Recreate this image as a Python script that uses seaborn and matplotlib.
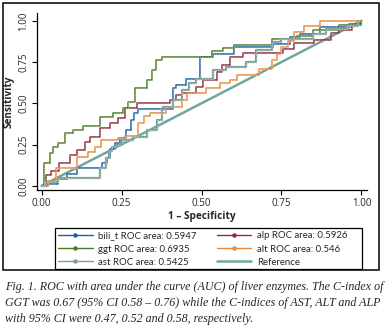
import numpy as np
import pandas as pd
import matplotlib
matplotlib.use("Agg")
import matplotlib.pyplot as plt
from matplotlib.lines import Line2D
from matplotlib.patches import Rectangle
import seaborn as sns

# ROC curves: FPR where each step starts, TPR level
bili_fpr = [0, 0.02, 0.05, 0.08, 0.11, 0.19, 0.205, 0.215, 0.23, 0.245, 0.265, 0.28, 0.29, 0.30,
            0.41, 0.42, 0.45, 0.495, 0.536, 0.60, 0.724, 0.776, 0.807, 0.87, 0.96, 1.0]
bili_tpr = [0, 0.012, 0.04, 0.07, 0.105, 0.14, 0.17, 0.22, 0.26, 0.29, 0.34, 0.40, 0.44, 0.465,
            0.59, 0.61, 0.65, 0.78, 0.80, 0.84, 0.86, 0.90, 0.92, 0.96, 0.98, 1.0]

ggt_fpr = [0, 0.008, 0.026, 0.036, 0.052, 0.073, 0.099, 0.130, 0.182, 0.224, 0.255, 0.271, 0.292,
           0.328, 0.344, 0.359, 0.375, 0.532, 0.568, 0.60, 0.72, 0.80, 0.85, 0.93, 1.0]
ggt_tpr = [0, 0.135, 0.196, 0.236, 0.257, 0.317, 0.337, 0.36, 0.418, 0.442, 0.469, 0.509, 0.59,
           0.64, 0.70, 0.76, 0.778, 0.816, 0.835, 0.853, 0.887, 0.907, 0.944, 0.974, 1.0]

ast_fpr = [0, 0.01, 0.05, 0.182, 0.20, 0.21, 0.22, 0.235, 0.25, 0.286, 0.328, 0.36, 0.375, 0.38,
           0.41, 0.44, 0.46, 0.484, 0.536, 0.578, 0.64, 0.67, 0.72, 0.75, 0.85, 0.89, 0.955, 0.99]
ast_tpr = [0, 0.02, 0.044, 0.105, 0.166, 0.21, 0.236, 0.25, 0.277, 0.297, 0.337, 0.40, 0.459, 0.48,
           0.52, 0.58, 0.62, 0.65, 0.70, 0.72, 0.75, 0.82, 0.87, 0.89, 0.92, 0.95, 0.97, 1.0]

alp_fpr = [0, 0.015, 0.03, 0.055, 0.089, 0.109, 0.135, 0.151, 0.182, 0.214, 0.24, 0.26, 0.297, 0.40,
           0.42, 0.44, 0.484, 0.505, 0.547, 0.563, 0.589, 0.63, 0.755, 0.79, 0.852, 0.904, 0.93, 0.97, 1.0]
alp_tpr = [0, 0.065, 0.09, 0.135, 0.186, 0.216, 0.267, 0.297, 0.35, 0.378, 0.408, 0.469, 0.50, 0.52,
           0.55, 0.56, 0.60, 0.64, 0.69, 0.73, 0.78, 0.806, 0.83, 0.863, 0.883, 0.924, 0.944, 0.974, 1.0]

alt_fpr = [0, 0.02, 0.045, 0.109, 0.146, 0.167, 0.187, 0.24, 0.26, 0.30, 0.32, 0.34, 0.39, 0.44,
           0.455, 0.515, 0.557, 0.588, 0.61, 0.68, 0.72, 0.735, 0.75, 0.77, 0.79, 0.82, 0.87, 1.0]
alt_tpr = [0, 0.03, 0.105, 0.176, 0.206, 0.236, 0.277, 0.29, 0.30, 0.38, 0.42, 0.44, 0.479, 0.52,
           0.56, 0.59, 0.62, 0.64, 0.67, 0.71, 0.76, 0.80, 0.84, 0.88, 0.93, 0.97, 1.0, 1.0]

ref_x = [0, 1]
ref_y = [0, 1]

tick_vals = [0, 0.25, 0.5, 0.75, 1.0]
tick_labels = ["0.00", "0.25", "0.50", "0.75", "1.00"]

caption = ["Fig. 1. ROC with area under the curve (AUC) of liver enzymes. The C-index of",
           "GGT was 0.67 (95% CI 0.58 \u2013 0.76) while the C-indices of AST, ALT and ALP",
           "with 95% CI were 0.47, 0.52 and 0.58, respectively."]


def staircase(fpr, tpr):
    xs, ys = [], []
    for i in range(len(fpr)):
        if i > 0:
            xs.append(fpr[i]); ys.append(tpr[i - 1])
        xs.append(fpr[i]); ys.append(tpr[i])
    return pd.DataFrame({"fpr": xs, "tpr": ys})


sns.set_theme(style="white")
plt.rcParams['font.family'] = ['Open Sans', 'DejaVu Sans']

fig = plt.figure(figsize=(3.87, 3.34), dpi=100)
ax = fig.add_axes([0.0956, 0.431, 0.852, 0.530])

# name, fpr, tpr, colour, light dot colour, line width
curves = {
    "bili_t ROC area: 0.5947": (bili_fpr, bili_tpr, "#215f9c", "#7fb0dc", 1.1),
    "alp ROC area: 0.5926": (alp_fpr, alp_tpr, "#8b2d3a", "#c98a92", 1.1),
    "ggt ROC area: 0.6935": (ggt_fpr, ggt_tpr, "#4f7a2c", "#9cbf7c", 1.1),
    "alt ROC area: 0.546": (alt_fpr, alt_tpr, "#e58a3e", "#f3c08f", 1.1),
    "ast ROC area: 0.5425": (ast_fpr, ast_tpr, "#7d9f99", "#b3ccc8", 1.6),
}

ref_color = "#72a59e"
sns.lineplot(x=ref_x, y=ref_y, ax=ax, color=ref_color, lw=1.8, estimator=None, sort=False)

for name, (fpr, tpr, col, light, lw) in curves.items():
    df = staircase(fpr, tpr)
    sns.lineplot(data=df, x="fpr", y="tpr", ax=ax, color=col, lw=lw,
                 estimator=None, sort=False)
    ax.plot(df["fpr"], df["tpr"], color=light, lw=0.8, ls=(0, (1, 1.5)), zorder=3)

ax.set_xlim(-0.0147, 1.0166)
ax.set_ylim(-0.026, 1.047)
ax.set_xticks(tick_vals)
ax.set_yticks(tick_vals)
ax.set_xticklabels(tick_labels, fontsize=7)
ax.set_yticklabels(tick_labels, fontsize=7, rotation=90, va="center")
ax.tick_params(axis="both", length=3.5, width=0.8, color="black", pad=2, direction="out",
               bottom=True, left=True)
ax.set_xlabel("1 \u2013 Specificity", fontsize=7.2, fontweight="bold", labelpad=2)
ax.set_ylabel("Sensitivity", fontsize=7.2, fontweight="bold", labelpad=3)
for side in ["top", "right"]:
    ax.spines[side].set_visible(False)
for side in ["left", "bottom"]:
    ax.spines[side].set_color("black")
    ax.spines[side].set_linewidth(0.9)

# legend, row-major like the original: matplotlib fills columns first
order = ["bili_t ROC area: 0.5947", "ggt ROC area: 0.6935", "ast ROC area: 0.5425",
         "alp ROC area: 0.5926", "alt ROC area: 0.546", "Reference"]
handles = []
for name in order:
    if name == "Reference":
        handles.append(Line2D([], [], color=ref_color, lw=1.8))
    else:
        handles.append(Line2D([], [], color=curves[name][2], lw=1.0, marker="o", markersize=2.2))
leg = fig.legend(handles, order, ncol=2, loc="upper left",
                 bbox_to_anchor=(58 / 387, 1 - 231.5 / 334), borderaxespad=0, borderpad=0,
                 numpoints=1, prop=dict(family="Lato", size=6.9), handlelength=3.6,
                 handletextpad=0.6, labelspacing=0.42, columnspacing=2.1, frameon=False)

fig.patches.append(Rectangle((55 / 387, 1 - 269 / 334), 307 / 387, 41 / 334,
                             transform=fig.transFigure, fill=False, edgecolor="black", lw=0.9))
fig.patches.append(Rectangle((0.008, 0.192), 0.971, 0.799, transform=fig.transFigure,
                             fill=False, edgecolor="black", lw=1.1))

for i, line in enumerate(caption):
    fig.text(0.013, 0.14 - i * 0.047, line, fontsize=8.62, style="italic",
             family=["Liberation Serif", "DejaVu Serif"], va="center", ha="left")

fig.savefig("out.png", dpi=100)
